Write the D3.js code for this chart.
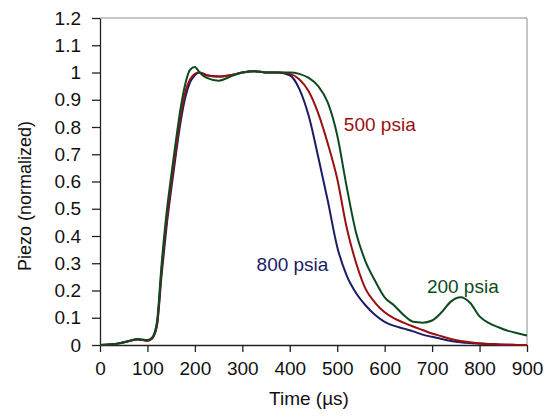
<!DOCTYPE html>
<html>
<head>
<meta charset="utf-8">
<script src="https://cdn.jsdelivr.net/npm/d3@7"></script>
<style>
  body { margin: 0; background: #fff; }
  svg { font-family: "Liberation Sans", Arial, sans-serif; }
</style>
</head>
<body>
<div id="chart"></div>
<script>
// time grid (µs)
const times = [0, 20, 40, 60, 80, 100, 110, 120, 130, 140, 150, 160, 170, 180, 190, 200, 210, 225, 250, 275,
  300, 325, 350, 375, 400, 420, 440, 460, 480, 500, 520, 540, 560, 580, 600, 620, 640, 660, 680, 700,
  720, 740, 760, 780, 800, 820, 840, 860, 880, 900];

const psi800 = [0, 0.002, 0.006, 0.014, 0.02, 0.016, 0.024, 0.07, 0.26, 0.43, 0.57, 0.70, 0.82, 0.91, 0.965, 0.99, 1.0, 0.99, 0.985, 0.99,
  1.0, 1.005, 1.0, 1.0, 0.99, 0.94, 0.84, 0.69, 0.53, 0.36, 0.255, 0.19, 0.145, 0.11, 0.085, 0.07, 0.06, 0.05, 0.038, 0.03,
  0.022, 0.015, 0.01, 0.007, 0.005, 0.003, 0.002, 0.001, 0, 0];

const psi500 = [0, 0.002, 0.006, 0.014, 0.02, 0.016, 0.025, 0.075, 0.28, 0.45, 0.59, 0.72, 0.84, 0.93, 0.975, 0.995, 1.0, 0.99, 0.985, 0.99,
  1.0, 1.005, 1.0, 1.0, 0.995, 0.975, 0.93, 0.85, 0.74, 0.61, 0.43, 0.30, 0.205, 0.155, 0.12, 0.098, 0.082, 0.068, 0.055, 0.042,
  0.032, 0.022, 0.015, 0.01, 0.006, 0.004, 0.002, 0.001, 0, 0];

const psi200 = [0, 0.002, 0.006, 0.015, 0.022, 0.018, 0.028, 0.085, 0.30, 0.48, 0.62, 0.75, 0.87, 0.96, 1.01, 1.02, 1.0, 0.98, 0.97, 0.985,
  1.0, 1.005, 1.0, 1.0, 1.0, 0.995, 0.98, 0.95, 0.89, 0.77, 0.58, 0.41, 0.305, 0.235, 0.175, 0.145, 0.11, 0.085, 0.082, 0.09,
  0.12, 0.16, 0.175, 0.155, 0.105, 0.08, 0.065, 0.052, 0.043, 0.035];

const seriesNames = ['800 psia', '500 psia', '200 psia'];
const seriesValues = [psi800, psi500, psi200];
const seriesColors = ['#1c1c66', '#9a1010', '#0d4a1f'];
// where each series label sits, in data units (time, value)
const labelAt = [[330, 0.27], [514, 0.787], [689, 0.19]];

const xTicks = [0, 100, 200, 300, 400, 500, 600, 700, 800, 900];
const yTicks = [0, 0.1, 0.2, 0.3, 0.4, 0.5, 0.6, 0.7, 0.8, 0.9, 1, 1.1, 1.2];

const W = 549, H = 417;
const margin = { top: 18, right: 22, bottom: 72, left: 100 };
const width = W - margin.left - margin.right;
const height = H - margin.top - margin.bottom;

const svg = d3.select('#chart').append('svg')
  .attr('width', W)
  .attr('height', H);

const g = svg.append('g')
  .attr('transform', 'translate(' + margin.left + ',' + margin.top + ')');

const x = d3.scaleLinear().domain([0, 900]).range([0, width]);
const y = d3.scaleLinear().domain([0, 1.2]).range([height, 0]);

// plot frame (top and right)
g.append('path')
  .attr('d', `M0,0H${width}V${height}`)
  .attr('fill', 'none')
  .attr('stroke', '#8c8c8c')
  .attr('stroke-width', 1);

// axes
const xAxis = g.append('g')
  .attr('transform', 'translate(0,' + height + ')')
  .call(d3.axisBottom(x).tickValues(xTicks).tickSize(7).tickSizeOuter(0).tickPadding(10));

const yAxis = g.append('g')
  .call(d3.axisLeft(y).tickValues(yTicks).tickSize(8).tickSizeOuter(0).tickPadding(11)
    .tickFormat(d => String(+d.toFixed(1))));

[xAxis, yAxis].forEach(a => {
  a.selectAll('path, line').attr('stroke', '#222').attr('stroke-width', 1.3);
  a.selectAll('text')
    .attr('font-family', '"Liberation Sans", Arial, sans-serif')
    .attr('font-size', '19px')
    .attr('fill', '#111');
});
xAxis.selectAll('text').attr('dy', '0.68em');

// lines
const line = d3.line()
  .x((d, i) => x(times[i]))
  .y(d => y(d))
  .curve(d3.curveMonotoneX);

seriesValues.forEach((vals, k) => {
  g.append('path')
    .datum(vals)
    .attr('fill', 'none')
    .attr('stroke', seriesColors[k])
    .attr('stroke-width', 2)
    .attr('d', line);
});

// series labels
seriesNames.forEach((name, k) => {
  g.append('text')
    .attr('x', x(labelAt[k][0]))
    .attr('y', y(labelAt[k][1]))
    .attr('font-size', '19px')
    .attr('fill', seriesColors[k])
    .text(name);
});

// axis titles
svg.append('text')
  .attr('x', 309)
  .attr('y', 405)
  .attr('text-anchor', 'middle')
  .attr('font-size', '19px')
  .attr('fill', '#111')
  .text('Time (µs)');

svg.append('text')
  .attr('transform', 'translate(31,196) rotate(-90)')
  .attr('text-anchor', 'middle')
  .attr('font-size', '18px')
  .attr('fill', '#111')
  .text('Piezo (normalized)');
</script>
</body>
</html>
